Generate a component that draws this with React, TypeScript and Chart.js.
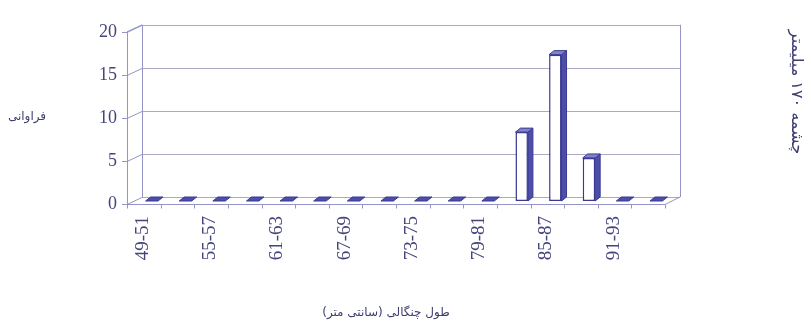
import React, { useEffect, useRef } from 'react';
import { Chart, registerables } from 'chart.js';

Chart.register(...registerables);

// Length classes (cm) and their frequencies
const categories = [
  '49-51', '52-54', '55-57', '58-60', '61-63', '64-66', '67-69', '70-72',
  '73-75', '76-78', '79-81', '82-84', '85-87', '88-90', '91-93', '94-96',
];
const frequencies = [0, 0, 0, 0, 0, 0, 0, 0, 0, 0, 0, 8, 17, 5, 0, 0];
const yTicks = [0, 5, 10, 15, 20];

const xTitle = 'طول چنگالی (سانتی متر)';
const yTitle = 'فراوانی';
const sideNote = 'چشمه ۱۷۰ میلیمتر';

// pseudo-3D geometry: offsets of the front and back planes from the bar plane
const FRONT = { dx: -8, dy: 3 };
const BACK = { dx: 7, dy: -4 };
const BAR_DEPTH = { dx: 5, dy: 4 };

const GRID = '#a9a9c4';
const AXIS = '#9494c8';
const EDGE = '#3a3a92';
const SIDE = '#4d4daa';
const TOP = '#8282c8';
const TEXT = '#45457e';

const line = (ctx: CanvasRenderingContext2D, x1: number, y1: number, x2: number, y2: number) => {
  ctx.beginPath();
  ctx.moveTo(x1, y1);
  ctx.lineTo(x2, y2);
  ctx.stroke();
};

const poly = (ctx: CanvasRenderingContext2D, pts: number[][], fill: string, stroke?: string) => {
  ctx.beginPath();
  ctx.moveTo(pts[0][0], pts[0][1]);
  for (let i = 1; i < pts.length; i++) ctx.lineTo(pts[i][0], pts[i][1]);
  ctx.closePath();
  ctx.fillStyle = fill;
  ctx.fill();
  if (stroke) {
    ctx.strokeStyle = stroke;
    ctx.stroke();
  }
};

const frame3d = {
  id: 'frame3d',
  beforeDatasetsDraw(chart: any) {
    const { ctx, chartArea, scales } = chart;
    const { left, right } = chartArea;
    const y = scales.y;
    const y0 = y.getPixelForValue(0);
    const yMax = y.getPixelForValue(20);
    ctx.save();
    ctx.lineWidth = 1;

    // back wall gridlines
    ctx.strokeStyle = GRID;
    yTicks.forEach((v) => {
      const py = Math.round(y.getPixelForValue(v) + BACK.dy) + 0.5;
      line(ctx, left + BACK.dx, py, right + BACK.dx, py);
    });

    ctx.strokeStyle = AXIS;
    // back edges of the left and right walls
    line(ctx, left + BACK.dx + 0.5, yMax + BACK.dy, left + BACK.dx + 0.5, y0 + BACK.dy);
    line(ctx, right + BACK.dx + 0.5, yMax + BACK.dy, right + BACK.dx + 0.5, y0 + BACK.dy);
    // front value axis and top of the side wall
    line(ctx, left + FRONT.dx + 0.5, yMax + FRONT.dy, left + FRONT.dx + 0.5, y0 + FRONT.dy);
    line(ctx, left + FRONT.dx, yMax + FRONT.dy, left + BACK.dx, yMax + BACK.dy);
    // value-axis tick marks
    yTicks.forEach((v) => {
      const py = Math.round(y.getPixelForValue(v) + FRONT.dy) + 0.5;
      line(ctx, left + FRONT.dx - 5, py, left + FRONT.dx, py);
      line(ctx, left + FRONT.dx, py, left + BACK.dx, py + BACK.dy - FRONT.dy);
    });
    // floor front edge and right floor edge
    const fy = Math.round(y0 + FRONT.dy) + 0.5;
    line(ctx, left + FRONT.dx, fy, right + FRONT.dx, fy);
    line(ctx, right + FRONT.dx, fy, right + BACK.dx, y0 + BACK.dy);
    // category boundary ticks along the floor edge
    const step = (right - left) / categories.length;
    for (let i = 0; i <= categories.length; i++) {
      const px = Math.round(left + FRONT.dx + i * step) + 0.5;
      line(ctx, px, fy, px, fy + 4);
    }
    ctx.restore();
  },
  afterDatasetsDraw(chart: any) {
    const { ctx } = chart;
    const meta = chart.getDatasetMeta(0);
    ctx.save();
    ctx.lineWidth = 1;
    meta.data.forEach((el: any, i: number) => {
      const { x, y, width, base } = el.getProps(['x', 'y', 'width', 'base'], true);
      const l = x - width / 2;
      const r = x + width / 2;
      const { dx, dy } = BAR_DEPTH;
      if (frequencies[i] > 0) {
        poly(ctx, [[r, y], [r + dx, y - dy], [r + dx, base - dy], [r, base]], SIDE, EDGE);
        poly(ctx, [[l, y], [l + dx, y - dy], [r + dx, y - dy], [r, y]], TOP, EDGE);
      } else {
        poly(ctx, [[l, base], [l + dx, base - dy], [r + dx, base - dy], [r, base]], SIDE, EDGE);
      }
    });
    ctx.restore();
  },
  afterDraw(chart: any) {
    const { ctx } = chart;
    ctx.save();
    ctx.fillStyle = '#3d3d72';
    ctx.textAlign = 'center';
    ctx.textBaseline = 'middle';
    ctx.font = '12px "DejaVu Sans"';
    ctx.fillText(xTitle, 386, 313);
    ctx.fillText(yTitle, 27, 117);
    ctx.font = '16px "DejaVu Sans"';
    ctx.translate(796, 92);
    ctx.rotate(Math.PI / 2);
    ctx.fillText(sideNote, 0, 0);
    ctx.restore();
  },
};

export default function App() {
  const canvasRef = useRef<HTMLCanvasElement | null>(null);

  useEffect(() => {
    if (!canvasRef.current) return;
    const chart = new Chart(canvasRef.current, {
      type: 'bar',
      data: {
        labels: categories,
        datasets: [
          {
            data: frequencies,
            backgroundColor: '#ffffff',
            borderColor: EDGE,
            borderWidth: (c: any) => (c.raw > 0 ? 1.5 : 0),
            borderSkipped: false,
            barPercentage: 0.37,
            categoryPercentage: 1,
          },
        ],
      },
      options: {
        animation: false,
        responsive: true,
        maintainAspectRatio: false,
        layout: { padding: { top: 18, right: 138, bottom: 0, left: 0 } },
        plugins: { legend: { display: false }, tooltip: { enabled: false } },
        scales: {
          x: {
            grid: { display: false, drawTicks: false },
            border: { display: false },
            ticks: {
              autoSkip: false,
              minRotation: 90,
              maxRotation: 90,
              padding: 15,
              labelOffset: -9,
              color: TEXT,
              font: { family: '"Liberation Serif"', size: 19 },
              callback: (_v: any, i: number) => (i % 2 === 0 ? categories[i] : ''),
            },
            afterFit: (s: any) => {
              s.height = 130;
            },
          },
          y: {
            min: 0,
            max: 20,
            grid: { display: false, drawTicks: false },
            border: { display: false },
            ticks: {
              stepSize: 5,
              padding: 18,
              labelOffset: 3,
              color: TEXT,
              font: { family: '"Liberation Serif"', size: 18 },
            },
            afterFit: (s: any) => {
              s.width = 135;
            },
          },
        },
      },
      plugins: [frame3d],
    });
    return () => chart.destroy();
  }, []);

  return (
    <div style={{ position: 'fixed', left: 0, top: 0, width: 811, height: 331, background: '#ffffff' }}>
      <canvas ref={canvasRef} />
    </div>
  );
}
